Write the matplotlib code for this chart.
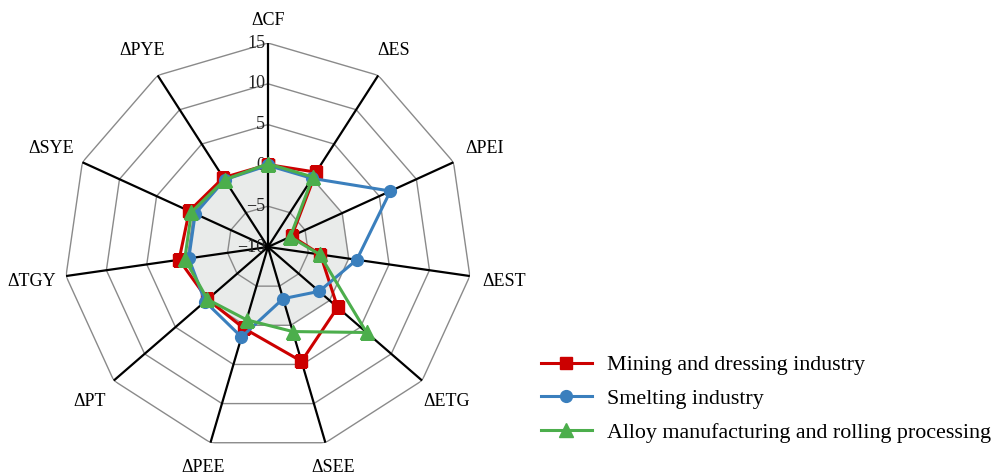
import numpy as np
import matplotlib.pyplot as plt

plt.rcParams['font.family'] = ['Liberation Serif', 'DejaVu Serif']

# indicators, clockwise from the top
labels = ['ΔCF', 'ΔES', 'ΔPEI', 'ΔEST', 'ΔETG', 'ΔSEE', 'ΔPEE', 'ΔPT', 'ΔTGY', 'ΔSYE', 'ΔPYE']

mining = [0.1, 0.9, -6.8, -3.5, 1.3, 4.6, 0.4, -0.2, 1.0, 0.6, 0.1]
smelting = [0.0, 0.0, 6.5, 1.0, -1.7, -3.4, 1.5, 0.2, -0.2, -0.2, -0.2]
alloy = [0.2, 0.2, -7.0, -3.6, 6.0, 0.8, -0.7, -0.2, 0.3, 0.3, -0.2]

series_names = ['Mining and dressing industry', 'Smelting industry',
                'Alloy manufacturing and rolling processing']
levels = [-10, -5, 0, 5, 10, 15]

n = len(labels)
angles = np.linspace(0, 2 * np.pi, n, endpoint=False)
closed = np.append(angles, angles[0])

fig = plt.figure(figsize=(9.99, 4.75), dpi=100)
ax = fig.add_axes([0.064, 0.0505, 0.4084, 0.859], projection='polar')
ax.set_theta_zero_location('N')
ax.set_theta_direction(-1)
ax.set_ylim(-10, 15)
ax.grid(False)
ax.spines['polar'].set_visible(False)
ax.set_yticks([])
ax.set_xticks([])

# shaded area inside the zero ring
ax.fill(closed, [0] * (n + 1), color='#e9ebea', zorder=0)

# polygon grid and spokes
for lv in levels[1:]:
    ax.plot(closed, [lv] * (n + 1), color='#8a8a8a', lw=1, zorder=1)
for a in angles:
    ax.plot([a, a], [-10, 15], color='black', lw=1.6, zorder=2)

for lv in levels:
    ax.annotate('−' + str(-lv) if lv < 0 else str(lv), xy=(0, lv), xytext=(-2, 0),
                textcoords='offset points', ha='right', va='center', fontsize=13,
                color='#222222', zorder=3)

# category labels around the outside (side labels sit a bit further out)
for a, lab in zip(angles, labels):
    ax.text(a, 17.8 + 1.5 * abs(np.sin(a)), lab, ha='center', va='center', fontsize=13)

styles = [('#cc0000', 's', 8), ('#3a7fbd', 'o', 8.5), ('#4cae4c', '^', 9.5)]
for vals, name, (c, m, ms) in zip([mining, smelting, alloy], series_names, styles):
    ax.plot(closed, vals + vals[:1], color=c, marker=m, ms=ms, lw=2.2,
            label=name, zorder=4)

fig.legend(loc='upper left', bbox_to_anchor=(0.522, 0.294), frameon=False,
           fontsize=15.8, handlelength=2.3, labelspacing=0.6, handletextpad=0.7)

fig.savefig('out.png', dpi=100)
